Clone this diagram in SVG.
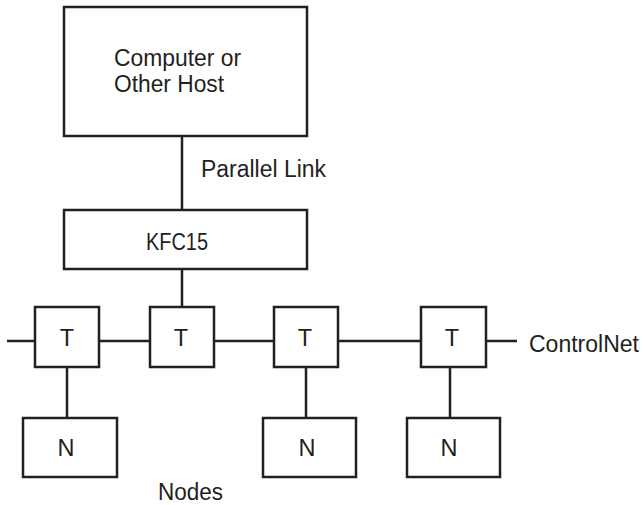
<svg xmlns="http://www.w3.org/2000/svg" width="643" height="505" viewBox="0 0 643 505">
<style>
.box{fill:#fff;stroke:#231f20;stroke-width:2.5}
.ln{fill:none;stroke:#231f20;stroke-width:2.5}
text{font-family:"Liberation Sans",Arial,sans-serif;font-size:23.5px;fill:#231f20}
.c{text-anchor:middle}
</style>
<rect width="643" height="505" fill="#fff"/>
<g id="connectors">
<line class="ln" x1="182" y1="136" x2="182" y2="210"/>
<line class="ln" x1="182" y1="269" x2="182" y2="307"/>
<line class="ln" x1="7" y1="341" x2="35" y2="341"/>
<line class="ln" x1="99" y1="341" x2="150" y2="341"/>
<line class="ln" x1="214" y1="341" x2="274" y2="341"/>
<line class="ln" x1="338" y1="341" x2="421" y2="341"/>
<line class="ln" x1="486" y1="341" x2="517" y2="341"/>
<line class="ln" x1="67" y1="367" x2="67" y2="418"/>
<line class="ln" x1="306" y1="367" x2="306" y2="418"/>
<line class="ln" x1="450" y1="367" x2="450" y2="418"/>
</g>
<g id="host">
<rect class="box" x="64" y="7" width="243" height="129"/>
<text x="114" y="66" textLength="127" lengthAdjust="spacingAndGlyphs">Computer or</text>
<text x="114" y="92" textLength="110" lengthAdjust="spacingAndGlyphs">Other Host</text>
</g>
<text id="parallel-link" x="201" y="177" textLength="125" lengthAdjust="spacingAndGlyphs">Parallel Link</text>
<g id="kfc15">
<rect class="box" x="64" y="210" width="243" height="59"/>
<text x="146" y="250" textLength="62" lengthAdjust="spacingAndGlyphs">KFC15</text>
</g>
<g id="t1"><rect class="box" x="35" y="307" width="64" height="60"/><text class="c" x="67" y="346">T</text></g>
<g id="t2"><rect class="box" x="150" y="307" width="64" height="60"/><text class="c" x="181" y="346">T</text></g>
<g id="t3"><rect class="box" x="274" y="307" width="64" height="60"/><text class="c" x="305" y="346">T</text></g>
<g id="t4"><rect class="box" x="421" y="307" width="65" height="60"/><text class="c" x="452" y="346">T</text></g>
<text id="controlnet" x="529" y="352" textLength="110" lengthAdjust="spacingAndGlyphs">ControlNet</text>
<g id="n1"><rect class="box" x="23" y="418" width="94" height="59"/><text class="c" x="66" y="456">N</text></g>
<g id="n3"><rect class="box" x="263" y="418" width="93" height="59"/><text class="c" x="307" y="456">N</text></g>
<g id="n4"><rect class="box" x="407" y="418" width="93" height="59"/><text class="c" x="449" y="456">N</text></g>
<text id="nodes" x="158" y="500" textLength="65" lengthAdjust="spacingAndGlyphs">Nodes</text>
</svg>
